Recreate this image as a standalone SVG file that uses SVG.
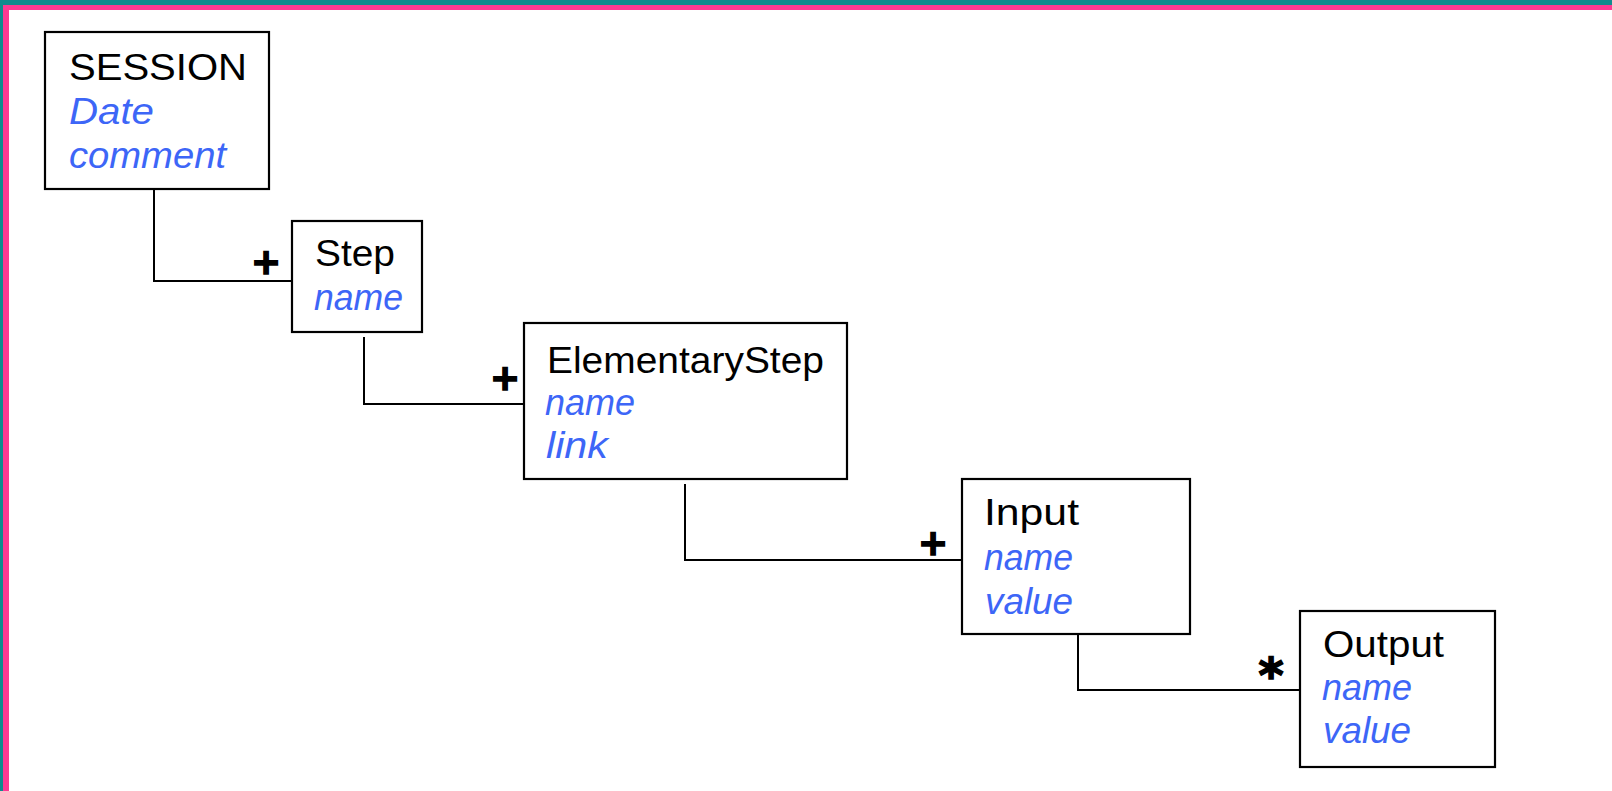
<svg xmlns="http://www.w3.org/2000/svg" width="1612" height="791" viewBox="0 0 1612 791">
<style>
.box{fill:#fff;stroke:#000;stroke-width:2.2}
.t{font-family:"Comic Sans MS","Liberation Sans",sans-serif;font-size:37px;fill:#000}
.a{font-family:"Comic Sans MS","Liberation Sans",sans-serif;font-size:37px;font-style:italic;fill:#3d66f7}
.c{fill:none;stroke:#000;stroke-width:2}
.m{font-family:"DejaVu Sans",sans-serif;font-weight:bold;fill:#000;stroke:#000;stroke-width:1.6;text-anchor:middle}
</style>
<rect x="0" y="0" width="1612" height="791" fill="#fff"/>
<rect x="0" y="0" width="1612" height="5" fill="#0f8b8d"/>
<rect x="0" y="0" width="3" height="791" fill="#0f8b8d"/>
<rect x="3" y="5" width="1609" height="5" fill="#fd3a92"/>
<rect x="3" y="5" width="6" height="786" fill="#fd3a92"/>
<g id="connectors">
<path class="c" d="M154 189 V281 H292"/>
<path class="c" d="M364 337 V404 H524"/>
<path class="c" d="M685 484 V560 H962"/>
<path class="c" d="M1078 634 V690 H1300"/>
<text class="m" x="266" y="274" font-size="36">+</text>
<text class="m" x="505" y="390" font-size="36">+</text>
<text class="m" x="933" y="555" font-size="36">+</text>
<text class="m" x="1271" y="692" font-size="48">*</text>
</g>
<g id="session">
<rect class="box" x="45" y="32" width="224" height="157"/>
<text class="t" x="69" y="80" textLength="178" lengthAdjust="spacingAndGlyphs">SESSION</text>
<text class="a" x="69" y="124" textLength="85" lengthAdjust="spacingAndGlyphs">Date</text>
<text class="a" x="69" y="168" textLength="157" lengthAdjust="spacingAndGlyphs">comment</text>
</g>
<g id="step">
<rect class="box" x="292" y="221" width="130" height="111"/>
<text class="t" x="315" y="266" textLength="80" lengthAdjust="spacingAndGlyphs">Step</text>
<text class="a" x="314" y="310" textLength="89" lengthAdjust="spacingAndGlyphs">name</text>
</g>
<g id="elementarystep">
<rect class="box" x="524" y="323" width="323" height="156"/>
<text class="t" x="547" y="373" textLength="277" lengthAdjust="spacingAndGlyphs">ElementaryStep</text>
<text class="a" x="545" y="415" textLength="90" lengthAdjust="spacingAndGlyphs">name</text>
<text class="a" x="546" y="458" textLength="62" lengthAdjust="spacingAndGlyphs">link</text>
</g>
<g id="input">
<rect class="box" x="962" y="479" width="228" height="155"/>
<text class="t" x="984" y="525" textLength="95" lengthAdjust="spacingAndGlyphs">Input</text>
<text class="a" x="984" y="570" textLength="89" lengthAdjust="spacingAndGlyphs">name</text>
<text class="a" x="985" y="614" textLength="88" lengthAdjust="spacingAndGlyphs">value</text>
</g>
<g id="output">
<rect class="box" x="1300" y="611" width="195" height="156"/>
<text class="t" x="1323" y="657" textLength="121" lengthAdjust="spacingAndGlyphs">Output</text>
<text class="a" x="1322" y="700" textLength="90" lengthAdjust="spacingAndGlyphs">name</text>
<text class="a" x="1323" y="743" textLength="88" lengthAdjust="spacingAndGlyphs">value</text>
</g>
</svg>
